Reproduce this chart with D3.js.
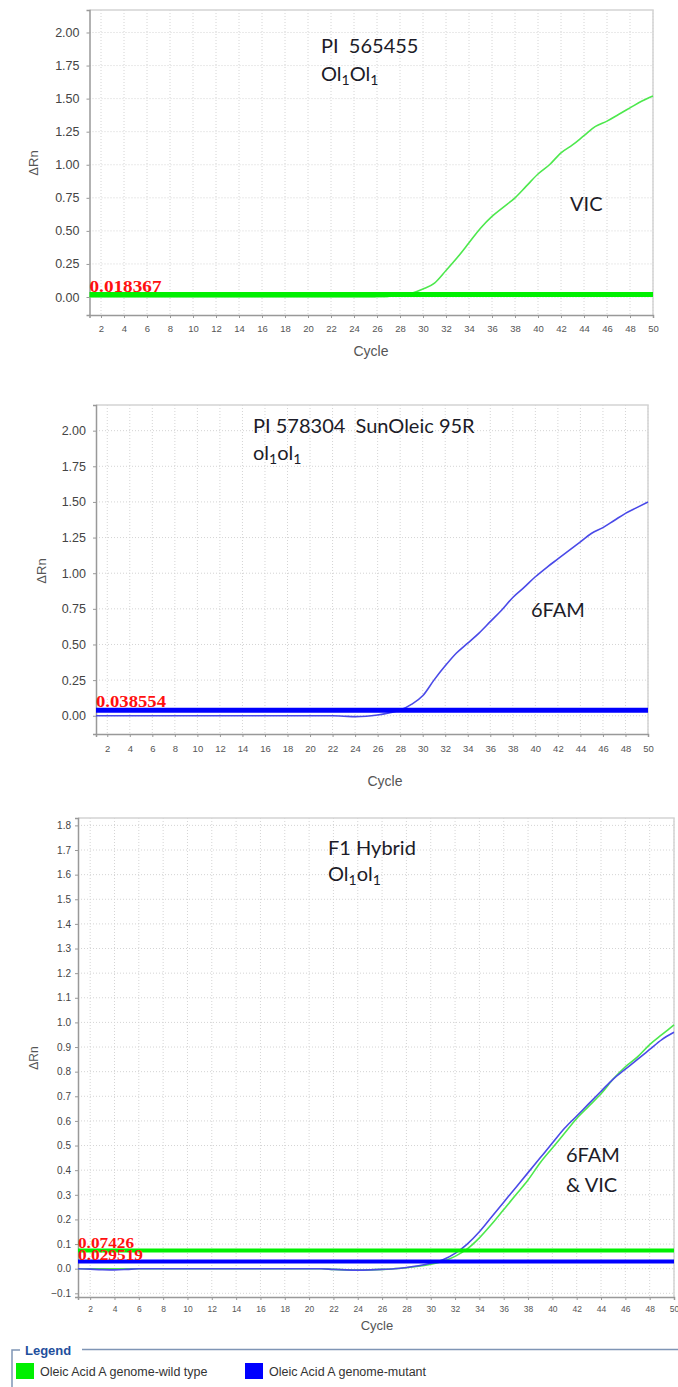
<!DOCTYPE html>
<html><head><meta charset="utf-8">
<script src="https://cdn.jsdelivr.net/npm/d3@7"></script>
<style>
html,body{margin:0;padding:0;background:#fff;}
svg{display:block;}
</style></head>
<body>
<svg id="chart" width="678" height="1387"></svg>
<script>
// ---------- DATA ----------
const cycles = [1,2,3,4,5,6,7,8,9,10,11,12,13,14,15,16,17,18,19,20,21,22,23,24,25,26,27,28,29,30,31,32,33,34,35,36,37,38,39,40,41,42,43,44,45,46,47,48,49,50];
const xTickLabels = [2,4,6,8,10,12,14,16,18,20,22,24,26,28,30,32,34,36,38,40,42,44,46,48,50];

// Panel 1: PI 565455 (VIC, wild type)
const p1Vic = [0,0,0,0,0,0,0,0,0,0,0,0,0,0,0,0,0,0,0,0,0,0,0,0,0,0.002,0.005,0.012,0.028,0.06,0.105,0.2,0.3,0.41,0.52,0.61,0.68,0.75,0.84,0.93,1.0,1.09,1.15,1.22,1.29,1.33,1.38,1.43,1.48,1.52];
const p1Threshold = 0.018367;
const p1YTicks = [0,0.25,0.5,0.75,1.0,1.25,1.5,1.75,2.0];

// Panel 2: PI 578304 SunOleic 95R (6FAM, mutant)
const p2Fam = [0,0,0,0,0,0,0,0,0,0,0,0,0,0,0,0,0,0,0,0,0,0,-0.003,-0.006,-0.004,0.005,0.02,0.04,0.08,0.14,0.25,0.35,0.44,0.51,0.58,0.66,0.74,0.83,0.9,0.975,1.04,1.1,1.16,1.22,1.28,1.32,1.37,1.42,1.46,1.5];
const p2Threshold = 0.038554;
const p2YTicks = [0,0.25,0.5,0.75,1.0,1.25,1.5,1.75,2.0];

// Panel 3: F1 Hybrid (6FAM & VIC)
const p3Vic = [0,0,0,0,0,0,0,0,0,0,0,0,0,0,0,0,0,0,0,0,0,-0.003,-0.005,-0.006,-0.005,-0.003,0,0.004,0.01,0.018,0.03,0.05,0.08,0.125,0.18,0.24,0.3,0.36,0.43,0.49,0.55,0.61,0.66,0.71,0.77,0.82,0.86,0.91,0.95,0.99];
const p3Fam = [0,-0.002,-0.004,-0.005,-0.003,0,0,0,0,0,0,0,0,0,0,0,0,0,0,0,0,-0.003,-0.005,-0.006,-0.005,-0.003,0,0.005,0.012,0.022,0.036,0.062,0.1,0.15,0.21,0.27,0.33,0.39,0.45,0.51,0.57,0.62,0.67,0.72,0.77,0.81,0.85,0.89,0.93,0.96];
const p3VicThreshold = 0.07426;
const p3FamThreshold = 0.029519;
const p3YTicks = [-0.1,0,0.1,0.2,0.3,0.4,0.5,0.6,0.7,0.8,0.9,1.0,1.1,1.2,1.3,1.4,1.5,1.6,1.7,1.8];

const legendLabels = ["Oleic Acid A genome-wild type","Oleic Acid A genome-mutant"];

// ---------- STYLE ----------
const GREEN_TH = "#00f000", GREEN_CURVE = "#4de84d";
const BLUE_TH = "#0000ff", BLUE_CURVE = "#4a4ae8";
const svg = d3.select("#chart");

function panel(cfg){
  const x = d3.scaleLinear().domain([1,50]).range([cfg.left, cfg.right]);
  const y = d3.scaleLinear().domain(cfg.yDomain).range([cfg.bottom, cfg.top]);
  const g = svg.append("g");
  g.append("rect").attr("x",cfg.left).attr("y",cfg.top).attr("width",cfg.right-cfg.left).attr("height",cfg.bottom-cfg.top).attr("fill","#fff");
  // grid
  g.append("g").selectAll("line").data(xTickLabels).join("line")
    .attr("x1",d=>x(d)).attr("x2",d=>x(d)).attr("y1",cfg.top).attr("y2",cfg.bottom)
    .attr("stroke","#d4d4d4").attr("stroke-width",1).attr("stroke-dasharray","1,2");
  g.append("g").selectAll("line").data(cfg.yTicks).join("line")
    .attr("x1",cfg.left).attr("x2",cfg.right).attr("y1",d=>y(d)).attr("y2",d=>y(d))
    .attr("stroke","#d4d4d4").attr("stroke-width",1).attr("stroke-dasharray","1,2");
  g.append("path").attr("d",`M${cfg.left},${cfg.top}H${cfg.right}V${cfg.bottom}`).attr("fill","none").attr("stroke","#d4d4d4").attr("stroke-width",1.5);
  // axes
  const ya = d3.axisLeft(y).tickValues(cfg.yTicks).tickFormat(d3.format(cfg.yFmt)).tickSize(3).tickPadding(cfg.yPad);
  const yg = g.append("g").attr("transform",`translate(${cfg.left},0)`).call(ya);
  yg.select(".domain").attr("stroke","#999").attr("stroke-width",1.5);
  yg.selectAll(".tick line").attr("stroke","#999");
  yg.selectAll(".tick text").attr("font-family","Liberation Sans, Arial, sans-serif").attr("font-size",cfg.yFont).attr("fill","#444");
  const xa = d3.axisBottom(x).tickValues(xTickLabels).tickFormat(d3.format("d")).tickSize(3).tickPadding(cfg.xPad);
  const xg = g.append("g").attr("transform",`translate(0,${cfg.bottom})`).call(xa);
  xg.select(".domain").attr("stroke","#999").attr("stroke-width",1.5);
  xg.selectAll(".tick line").attr("stroke","#999");
  xg.selectAll(".tick text").attr("font-family","Liberation Sans, Arial, sans-serif").attr("font-size",cfg.xFont).attr("fill","#555");
  // axis titles
  g.append("text").attr("transform",`translate(${cfg.yTitleX},${cfg.yTitleY}) rotate(-90)`)
    .attr("text-anchor","middle").attr("dominant-baseline","middle")
    .attr("font-family","Liberation Sans, Arial, sans-serif").attr("font-size",cfg.titleFont).attr("fill","#555").text("ΔRn");
  g.append("text").attr("x",cfg.xTitleX).attr("y",cfg.xTitleY).attr("text-anchor","middle")
    .attr("font-family","Liberation Sans, Arial, sans-serif").attr("font-size",cfg.titleFont+1).attr("fill","#555").text("Cycle");
  // curves
  const line = d3.line().x((d,i)=>x(cycles[i])).y(d=>y(d)).curve(d3.curveMonotoneX);
  cfg.series.forEach(s=>{
    g.append("path").datum(s.values).attr("d",line).attr("fill","none").attr("stroke",s.color).attr("stroke-width",1.6);
  });
  // thresholds
  cfg.thresholds.forEach(t=>{
    g.append("line").attr("x1",cfg.left).attr("x2",cfg.right).attr("y1",y(t.value)).attr("y2",y(t.value))
      .attr("stroke",t.color).attr("stroke-width",t.width);
  });
  cfg.thresholds.forEach(t=>{
    g.append("text").attr("x",cfg.left).attr("y",y(t.value)+t.dy)
      .attr("font-family","Liberation Serif, Times New Roman, serif").attr("font-weight","bold")
      .attr("font-size",t.font).attr("fill","#ff1010")
      .attr("textLength",t.len).attr("lengthAdjust","spacingAndGlyphs")
      .text(t.label);
  });
  // annotations
  cfg.notes.forEach(n=>{
    const t = g.append("text").attr("x",n.x).attr("y",n.y).attr("xml:space","preserve")
      .attr("font-family","Lato, Open Sans, sans-serif").attr("font-size",20).attr("fill","#1c1c28");
    let shifted = false;
    n.parts.forEach(p=>{
      if(p.sub){ t.append("tspan").attr("font-size",14).attr("dy",shifted?0:4).text(p.t); shifted = true; }
      else { t.append("tspan").attr("dy",shifted?-4:0).text(p.t); shifted = false; }
    });
  });
}

panel({left:89.5,right:653,top:10,bottom:315,yDomain:[-0.136,2.17],yTicks:p1YTicks,yFmt:".2f",
  yPad:7,xPad:7,yFont:12.5,xFont:9.5,titleFont:13,yTitleX:35,yTitleY:163,xTitleX:371,xTitleY:356,
  series:[{values:p1Vic,color:GREEN_CURVE}],
  thresholds:[{value:p1Threshold,color:GREEN_TH,width:5,label:String(p1Threshold),font:17,len:72,dy:-3}],
  notes:[{x:321,y:53,parts:[{t:"PI\u00a0 565455"}]},
         {x:321,y:81,parts:[{t:"Ol"},{t:"1",sub:true},{t:"Ol"},{t:"1",sub:true}]},
         {x:570,y:211,parts:[{t:"VIC"}]}]
});

panel({left:96,right:648,top:405,bottom:734,yDomain:[-0.128,2.18],yTicks:p2YTicks,yFmt:".2f",
  yPad:7,xPad:8,yFont:12.5,xFont:9.5,titleFont:13,yTitleX:43,yTitleY:571,xTitleX:385,xTitleY:786,
  series:[{values:p2Fam,color:BLUE_CURVE}],
  thresholds:[{value:p2Threshold,color:BLUE_TH,width:5,label:String(p2Threshold),font:17,len:70,dy:-3}],
  notes:[{x:253,y:433,parts:[{t:"PI 578304\u00a0 SunOleic 95R"}]},
         {x:253,y:460,parts:[{t:"ol"},{t:"1",sub:true},{t:"ol"},{t:"1",sub:true}]},
         {x:531,y:617,parts:[{t:"6FAM"}]}]
});

panel({left:78,right:674,top:818,bottom:1297,yDomain:[-0.115,1.83],yTicks:p3YTicks,yFmt:".1f",
  yPad:4,xPad:6,yFont:10,xFont:8.5,titleFont:12,yTitleX:35,yTitleY:1058,xTitleX:377,xTitleY:1330,
  series:[{values:p3Vic,color:GREEN_CURVE},{values:p3Fam,color:BLUE_CURVE}],
  thresholds:[{value:p3VicThreshold,color:GREEN_TH,width:4,label:String(p3VicThreshold),font:14,len:56,dy:-2},
              {value:p3FamThreshold,color:BLUE_TH,width:4,label:String(p3FamThreshold),font:14,len:65,dy:-1}],
  notes:[{x:328,y:855,parts:[{t:"F1 Hybrid"}]},
         {x:328,y:881,parts:[{t:"Ol"},{t:"1",sub:true},{t:"ol"},{t:"1",sub:true}]},
         {x:566,y:1162,parts:[{t:"6FAM"}]},
         {x:566,y:1192,parts:[{t:"&\u00a0VIC"}]}]
});

// ---------- LEGEND ----------
const lg = svg.append("g");
lg.append("path").attr("d","M20,1350H12V1387").attr("fill","none").attr("stroke","#7f95b5").attr("stroke-width",1.5);
lg.append("line").attr("x1",82).attr("x2",678).attr("y1",1349.5).attr("y2",1349.5).attr("stroke","#7f95b5").attr("stroke-width",1.5);
lg.append("text").attr("x",25).attr("y",1355).attr("font-family","Liberation Sans, Arial, sans-serif").attr("font-weight","bold")
  .attr("font-size",13).attr("fill","#1f4f9c").text("Legend");
const legendColors = [GREEN_TH, BLUE_TH];
const legendX = [16, 245];
legendLabels.forEach((l,i)=>{
  lg.append("rect").attr("x",legendX[i]).attr("y",1363).attr("width",18).attr("height",16).attr("fill",legendColors[i]);
  lg.append("text").attr("x",legendX[i]+24).attr("y",1376).attr("font-family","Liberation Sans, Arial, sans-serif")
    .attr("font-size",12.5).attr("fill","#333").text(l);
});
</script>
</body></html>
